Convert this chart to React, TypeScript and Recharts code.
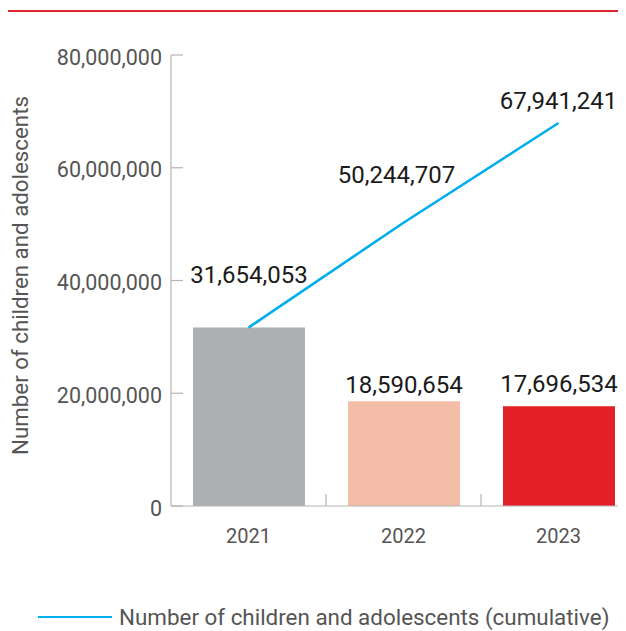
import React from 'react';
import { ComposedChart, Bar, Line, XAxis, YAxis, Cell, LabelList } from 'recharts';

const years = ['2021', '2022', '2023'];
const annualReached = [31654053, 18590654, 17696534];
const cumulativeReached = [31654053, 50244707, 67941241];
const barColors = ['#aeafb1', '#f4bda8', '#e31f27'];
const yTicks = [0, 20000000, 40000000, 60000000, 80000000];
const yTitle = 'Number of children and adolescents';
const legendLabel = 'Number of children and adolescents (cumulative)';

const data = years.map((y, i) => ({ year: y, annual: annualReached[i], cumulative: cumulativeReached[i] }));

const FONT = 'Roboto, "Noto Sans", sans-serif';
const fmt = (v: number) => v.toLocaleString('en-US');

const barLabelLift = [45, 8, 14];
const lineLabelLift = [0, 40, 14];
const lineLabelShift = [0, -7, 0];

const BarLabel = (props: any) => {
  const { x, y, width, index, value } = props;
  return (
    <text x={x + width / 2} y={y - barLabelLift[index]} textAnchor="middle" fontSize={24} fill="#1a1a1a" fontFamily={FONT}>
      {fmt(value)}
    </text>
  );
};

const LineLabel = (props: any) => {
  const { x, y, index, value } = props;
  if (index === 0) return null;
  return (
    <text x={x + lineLabelShift[index]} y={y - lineLabelLift[index]} textAnchor="middle" fontSize={24} fill="#1a1a1a" fontFamily={FONT}>
      {fmt(value)}
    </text>
  );
};

const YTick = (props: any) => {
  const { x, y, payload } = props;
  const axisX = x + 9;
  return (
    <g>
      <line x1={axisX} x2={axisX + 12} y1={y} y2={y} stroke="#b5b5b5" strokeWidth={1.2} />
      <text x={x} y={y} dy={9.5} textAnchor="end" fontSize={21.5} fill="#555" fontFamily={FONT}>
        {fmt(payload.value)}
      </text>
    </g>
  );
};

const XTick = (props: any) => {
  const { x, y, payload, index, visibleTicksCount } = props;
  const half = payload.offset || 0;
  const bx = payload.coordinate + half;
  return (
    <g>
      <text x={x} y={y + 37} textAnchor="middle" fontSize={20} fill="#555" fontFamily={FONT}>
        {payload.value}
      </text>
      {index < visibleTicksCount - 1 && (
        <line x1={bx} x2={bx} y1={y} y2={y - 12} stroke="#b5b5b5" strokeWidth={1.2} />
      )}
    </g>
  );
};

const YTitle = (props: any) => {
  const { viewBox } = props;
  const cy = viewBox.y + viewBox.height / 2 - 5;
  return (
    <text x={20} y={cy} transform={`rotate(-90, 20, ${cy})`} textAnchor="middle" dominantBaseline="central" fontSize={22.3} fill="#555" fontFamily={FONT}>
      {yTitle}
    </text>
  );
};

export default function App() {
  return (
    <div style={{ position: 'relative', margin: '-8px 0 0 -8px', width: 626, height: 631, overflow: 'hidden', background: '#fff' }}>
      <div style={{ position: 'absolute', left: 5, top: 10, width: 621, height: 1.6, background: '#d9262f' }} />
      <ComposedChart width={640} height={631} data={data} margin={{ top: 55, right: 4, bottom: 75, left: 0 }}>
        <XAxis
          dataKey="year"
          axisLine={{ stroke: '#b5b5b5', strokeWidth: 1.2 }}
          tickLine={false}
          tickSize={0}
          tickMargin={0}
          tick={<XTick />}
          height={50}
          interval={0}
        />
        <YAxis
          width={171}
          domain={[0, 80000000]}
          ticks={yTicks}
          axisLine={{ stroke: '#b5b5b5', strokeWidth: 1.2 }}
          tickLine={false}
          tickSize={0}
          tickMargin={9}
          tick={<YTick />}
          label={<YTitle />}
        />
        <Bar dataKey="annual" barSize={112} isAnimationActive={false}>
          {data.map((d, i) => (
            <Cell key={d.year} fill={barColors[i]} />
          ))}
          <LabelList dataKey="annual" content={<BarLabel />} />
        </Bar>
        <Line dataKey="cumulative" stroke="#00aeef" strokeWidth={2.6} dot={false} isAnimationActive={false}>
          <LabelList dataKey="cumulative" content={<LineLabel />} />
        </Line>
      </ComposedChart>
      <div style={{ position: 'absolute', left: 38, top: 606, display: 'flex', alignItems: 'center', fontFamily: FONT, fontSize: 22.4, lineHeight: '22px', color: '#555', whiteSpace: 'nowrap', height: 22 }}>
        <span style={{ display: 'inline-block', width: 74, height: 2.5, background: '#00aeef', marginRight: 7 }} />
        <span>{legendLabel}</span>
      </div>
    </div>
  );
}
